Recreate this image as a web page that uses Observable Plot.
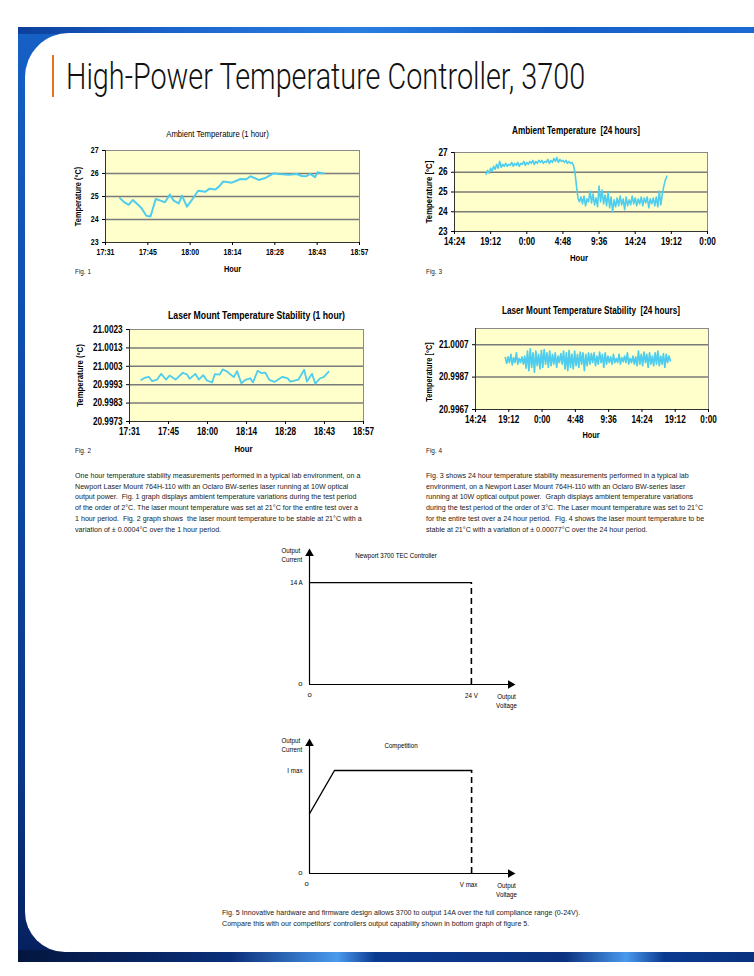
<!DOCTYPE html>
<html><head><meta charset="utf-8">
<script src="https://cdn.jsdelivr.net/npm/d3@7"></script>
<script src="https://cdn.jsdelivr.net/npm/@observablehq/plot@0.6"></script>
<style>
body{margin:0;background:#fff}
#page{position:relative;width:754px;height:976px;overflow:hidden;background:#fff;font-family:'Liberation Sans',Arial,sans-serif;color:#1a1a1a}
.abs{position:absolute}
#blue{left:18px;top:27px;width:760px;height:935px;background:linear-gradient(180deg,#1660c6 0%,#0e4aa8 40%,#0a3788 80%,#061f5c 100%)}
#topband{left:18px;top:27px;width:760px;height:7px;background:linear-gradient(90deg,#0c3f9c 0%,#1a64cc 20%,#2a7ee0 45%,#1560c8 70%,#1b6ad4 100%)}
#bottomband{left:18px;top:950px;width:760px;height:12px;background:linear-gradient(90deg,#04163f 0%,#0a2f7a 28%,#4a9aee 42%,#0a3a90 47%,#0b3280 72%,#4a9aee 80%,#0a3a90 85%,#08307a 100%)}
#white{left:25px;top:33px;width:760px;height:919px;background:#fff;border-radius:44px 0 0 40px}
#orange{left:52px;top:55px;width:1.5px;height:42px;background:#e8731f}
#title{left:66px;top:59px;font-family:Roboto,'Liberation Sans',sans-serif;font-weight:300;font-size:36px;line-height:36px;white-space:nowrap;color:#111;transform:scaleX(0.8);transform-origin:0 0}
.para{font-size:8px;line-height:10.7px;white-space:pre;color:#1a1a1a;transform:scaleX(0.89);transform-origin:0 0}
.fig{font-size:7.5px;white-space:pre;color:#1a1a1a;transform:scaleX(0.85);transform-origin:0 0}
svg{position:absolute}
</style></head>
<body>
<div id="page">
  <div id="blue" class="abs"></div>
  <div id="topband" class="abs"></div>
  <div id="bottomband" class="abs"></div>
  <div id="white" class="abs"></div>
  <div id="orange" class="abs"></div>
  <div id="title" class="abs">High-Power Temperature Controller, 3700</div>
  <div class="abs fig" style="left:75px;top:267px">Fig. 1</div>
  <div class="abs fig" style="left:75px;top:446px">Fig. 2</div>
  <div class="abs fig" style="left:426px;top:267px">Fig. 3</div>
  <div class="abs fig" style="left:426px;top:446px">Fig. 4</div>
  <div id="paraL" class="abs para" style="left:75px;top:471px"></div>
  <div id="paraR" class="abs para" style="left:426px;top:471px"></div>
  <div id="caption" class="abs para" style="left:222px;top:907px;line-height:11px"></div>
</div>
<script>
const FONT = "'Liberation Sans',Arial,sans-serif";
const CONDENSE = 0.82;
const PLOT_BG = "#ffffcc", LINE = "#4fcdee", GRID = "#7a7a7a";

// ---- Fig. 1: ambient temperature, 1 hour (time in minutes after midnight)
const fig1Time = [1056.1,1057.4,1059.1,1060.5,1062.0,1063.4,1065.1,1066.5,1068.3,1069.9,1071.4,1073.1,1074.4,1076.1,1077.2,1078.9,1080.6,1082.7,1085.2,1086.6,1088.6,1089.9,1091.2,1094.2,1097.1,1099.1,1100.5,1103.3,1105.3,1108.4,1110.1,1113.5,1116.3,1118.0,1119.5,1120.8,1122.5,1123.3,1125.4];
const fig1Temp = [24.93,24.77,24.64,24.85,24.67,24.50,24.16,24.13,24.89,24.82,24.75,25.08,24.82,24.70,25.04,24.56,24.85,25.25,25.21,25.34,25.30,25.44,25.65,25.60,25.76,25.75,25.88,25.72,25.79,26.01,25.98,25.95,25.98,25.89,25.88,25.98,25.84,26.05,26.00];
const hourTicks1 = [1051.2,1065.6,1080,1094.4,1108.8,1123.2,1137.6];
const hourLabels1 = ["17:31","17:45","18:00","18:14","18:28","18:43","18:57"];
const fig1YTicks = [23,24,25,26,27];

// ---- Fig. 2: laser mount temperature, 1 hour
const fig2Time = [1055.5,1056.7,1058.3,1059.6,1061.4,1062.9,1064.7,1066.0,1068.2,1070.9,1072.5,1073.4,1075.5,1076.8,1078.4,1079.8,1081.7,1082.7,1084.5,1085.6,1087.2,1089.7,1090.9,1092.5,1094.0,1095.8,1096.8,1098.5,1099.8,1101.3,1102.8,1104.7,1107.7,1109.6,1110.6,1113.6,1115.7,1116.7,1118.6,1119.8,1121.6,1122.9,1124.7];
const fig2Temp = [20.99956,20.99967,20.99973,20.99949,20.99958,20.99989,20.99958,20.9998,20.99958,20.99995,20.99985,20.99962,20.99989,20.99958,20.99982,20.99953,20.99942,20.99987,20.99985,21.00013,21.00002,20.99971,21.00004,20.99938,20.99956,20.99965,20.99942,21.00006,20.99993,20.99996,20.99956,20.99945,20.99973,20.99964,20.99947,20.99958,21.00011,20.99947,20.99989,20.99936,20.99965,20.99971,21.0];
const fig2YTicks = [20.9973,20.9983,20.9993,21.0003,21.0013,21.0023];

// ---- Fig. 3: ambient temperature, 24 hours (sampled every 0.2 h from 18.6 h)
const fig3StartHour = 18.6, fig3StepHours = 0.2;
const fig3Temp = [25.9,26.1,25.95,26.2,26.05,26.3,26.15,26.4,26.2,26.55,26.25,26.4,26.3,26.45,26.3,26.4,26.35,26.5,26.3,26.45,26.35,26.5,26.3,26.45,26.4,26.55,26.35,26.5,26.4,26.55,26.45,26.6,26.4,26.55,26.45,26.6,26.5,26.6,26.45,26.55,26.5,26.65,26.45,26.6,26.5,26.7,26.55,26.75,26.5,26.65,26.55,26.6,26.5,26.6,26.45,26.55,26.45,26.5,26.35,26.0,25.3,24.7,24.5,24.75,24.4,24.8,24.3,24.65,24.5,25.05,24.45,24.9,24.35,24.7,24.25,25.3,24.5,25.1,24.4,24.85,24.3,25.0,24.2,24.75,24.0,24.6,24.25,24.7,24.3,24.8,24.35,24.65,24.1,24.75,24.3,24.6,24.35,24.8,24.4,24.7,24.3,24.65,24.4,24.75,24.3,24.7,24.45,24.75,24.2,24.65,24.4,24.7,24.3,24.75,24.25,25.05,24.35,24.9,25.3,25.6,25.8];
const hourTicks24 = [14.4,19.2,24,28.8,33.6,38.4,43.2,48];
const hourLabels24 = ["14:24","19:12","0:00","4:48","9:36","14:24","19:12","0:00"];
const fig3YTicks = [23,24,25,26,27];

// ---- Fig. 4: laser mount temperature, 24 hours (sampled every 0.2 h from 18.7 h)
const fig4StartHour = 18.7, fig4StepHours = 0.2;
const fig4Temp = [20.9999,20.99955,20.99995,20.9996,21.0001,20.99945,20.9999,20.9996,21.0002,20.9995,20.99985,20.9996,20.99995,20.9995,21.0000,20.99925,21.0003,20.9991,21.00045,20.9993,21.0002,20.9990,21.0003,20.9994,21.0001,20.9992,21.00035,20.9993,21.0004,20.9995,21.0002,20.9993,21.0003,20.9994,21.0001,20.9995,21.0002,20.9993,21.0000,20.9996,21.00015,20.9995,21.0003,20.9992,21.0002,20.9991,21.00035,20.9993,21.0001,20.9992,21.0003,20.9994,21.0001,20.9993,21.00025,20.9995,21.0002,20.9991,21.0001,20.9994,21.0002,20.9995,21.00015,20.9996,21.0002,20.9994,21.0000,20.9995,21.00025,20.9996,21.0001,20.9993,21.0002,20.9995,21.0000,20.9996,20.99995,20.9995,21.0001,20.9996,20.99985,20.9996,21.0001,20.9995,20.9999,20.99965,21.0000,20.9996,21.0002,20.9995,20.99985,20.9996,21.0000,20.9995,20.99995,20.9994,21.0003,20.9995,21.0001,20.9994,21.00025,20.9996,21.0001,20.9993,21.0002,20.9995,21.0000,20.9994,21.0002,20.9995,21.0003,20.9994,21.0000,20.9995,21.00015,20.9993,21.0001,20.9996,21.0000,20.9997];
const fig4YTicks = [20.9967,20.9987,21.0007];

// ---- Fig. 5 schematics
const fig5TopCurve = [{v:0,i:14},{v:24,i:14}];
const fig5TopVmax = 24, fig5TopImax = 14;
const fig5TopYLabels = [{v:14,label:"14 A"},{v:0,label:"0"}];
const fig5TopXLabels = [{v:0,label:"0"},{v:24,label:"24 V"}];
const fig5BotCurve = [{v:0,i:0.58},{v:0.154,i:1},{v:1,i:1}];
const fig5BotYLabels = [{v:1,label:"I max"},{v:0,label:"0"}];
const fig5BotXLabels = [{v:0,label:"0"},{v:1,label:"V max"}];

// ---- texts
const paraLeft = [
 "One hour temperature stability measurements performed in a typical lab environment, on a",
 "Newport Laser Mount 764H-110 with an Oclaro BW-series laser running at 10W optical",
 "output power.  Fig. 1 graph displays ambient temperature variations during the test period",
 "of the order of 2°C. The laser mount temperature was set at 21°C for the entire test over a",
 "1 hour period.  Fig. 2 graph shows  the laser mount temperature to be stable at 21°C with a",
 "variation of ± 0.0004°C over the 1 hour period."];
const paraRight = [
 "Fig. 3 shows 24 hour temperature stability measurements performed in a typical lab",
 "environment, on a Newport Laser Mount 764H-110 with an Oclaro BW-series laser",
 "running at 10W optical output power.  Graph displays ambient temperature variations",
 "during the test period of the order of 3°C. The Laser mount temperature was set to 21°C",
 "for the entire test over a 24 hour period.  Fig. 4 shows the laser mount temperature to be",
 "stable at 21°C with a variation of ± 0.00077°C over the 24 hour period."];
const captionLines = [
 "Fig. 5 Innovative hardware and firmware design allows 3700 to output 14A over the full compliance range (0-24V).",
 "Compare this with our competitors' controllers output capability shown in bottom graph of figure 5."];

document.getElementById("paraL").textContent = paraLeft.join("\n");
document.getElementById("paraR").textContent = paraRight.join("\n");
document.getElementById("caption").textContent = captionLines.join("\n");

const page = document.getElementById("page");
const SVGNS = "http://www.w3.org/2000/svg";
// narrow each SVG label around its own anchor point (after layout), without touching Plot's attributes
function condense(svg, k){
  [...svg.querySelectorAll("text")].forEach(t=>{
    const parent = t.parentNode;
    const ctm = parent.getScreenCTM();
    if (!ctm) return;
    const inv = ctm.inverse();
    const r = t.getBoundingClientRect();
    if (!r.width) return;
    const p1 = new DOMPoint(r.left, r.top).matrixTransform(inv);
    const p2 = new DOMPoint(r.right, r.bottom).matrixTransform(inv);
    const x0 = Math.min(p1.x,p2.x), x1 = Math.max(p1.x,p2.x), y0 = Math.min(p1.y,p2.y), y1 = Math.max(p1.y,p2.y);
    const anchor = getComputedStyle(t).textAnchor || "start";
    const vertical = (y1-y0) > 2*(x1-x0);
    const g = document.createElementNS(SVGNS, "g");
    if (!vertical){
      const ax = anchor === "middle" ? (x0+x1)/2 : anchor === "end" ? x1 : x0;
      g.setAttribute("transform", `translate(${ax},0) scale(${k},1) translate(${-ax},0)`);
    } else {
      const ay = (y0+y1)/2;
      g.setAttribute("transform", `translate(0,${ay}) scale(1,${k}) translate(0,${-ay})`);
    }
    parent.insertBefore(g, t);
    g.appendChild(t);
  });
}
function place(svg, left, top){
  svg.style.left = left+"px"; svg.style.top = top+"px";
  page.appendChild(svg);
  condense(svg, CONDENSE);
}

function lineChart(o){
  const xl = new Map(o.xTicks.map((t,i)=>[t,o.xLabels[i]]));
  return Plot.plot({
    width:o.w, height:o.h,
    marginLeft:o.ml, marginRight:o.mr, marginTop:o.mt, marginBottom:o.mb,
    x:{domain:o.xDomain}, y:{domain:o.yDomain},
    style:{fontFamily:FONT, fontSize:o.fs+"px", background:"transparent", overflow:"visible", color:"#000"},
    marks:[
      Plot.frame({fill:PLOT_BG, stroke:"#8a8a8a", strokeWidth:1}),
      Plot.ruleY(o.grid, {stroke:GRID, strokeWidth:1.5}),
      Plot.line(o.data, {x:"t", y:"v", stroke:LINE, strokeWidth:o.lw, strokeLinejoin:"round"}),
      Plot.ruleX([o.xDomain[0]], {stroke:"#333", strokeWidth:1}),
      Plot.ruleY([o.yDomain[0]], {stroke:"#333", strokeWidth:1}),
      Plot.axisY({ticks:o.yTicks, tickFormat:o.yFmt, tickSize:3, tickPadding:4, fontWeight:"bold", fontSize:o.fs, label:null}),
      Plot.axisX({ticks:o.xTicks, tickFormat:d=>xl.get(d), tickSize:3, tickPadding:3, fontWeight:"bold", fontSize:o.fs, label:null}),
      Plot.text([o.title], {frameAnchor:"top", textAnchor:"middle", lineAnchor:"middle", dx:o.tdx, dy:o.tdy, fontSize:o.tfs, fontWeight:o.tfw||"normal"}),
      Plot.text([o.yLabel], {frameAnchor:"left", textAnchor:"middle", lineAnchor:"middle", rotate:-90, dx:o.ydx, dy:o.ydy||0, fontWeight:"bold", fontSize:o.lfs}),
      Plot.text(["Hour"], {frameAnchor:"bottom", textAnchor:"middle", lineAnchor:"middle", dx:o.hdx, dy:o.hdy, fontWeight:"bold", fontSize:o.lfs})
    ]
  });
}

const fmt4 = d3.format(".4f");

place(lineChart({w:310,h:160,ml:35,mr:21,mt:30,mb:38,
  xDomain:[1051.2,1137.6], yDomain:[23,27], xTicks:hourTicks1, xLabels:hourLabels1,
  yTicks:fig1YTicks, yFmt:d=>String(d), grid:[24,25,26],
  data:fig1Time.map((t,i)=>({t, v:fig1Temp[i]})), lw:2,
  fs:8.5, title:"Ambient Temperature (1 hour)", tfs:9.4, tdx:-15, tdy:-17,
  yLabel:"Temperature (°C)", ydx:-27, lfs:9, hdx:0, hdy:27}), 70, 120);

place(lineChart({w:310,h:160,ml:59,mr:17,mt:29,mb:39,
  xDomain:[1051.2,1137.6], yDomain:[20.9973,21.0023], xTicks:hourTicks1, xLabels:hourLabels1,
  yTicks:fig2YTicks, yFmt:fmt4, grid:[20.9983,20.9993,21.0003,21.0013],
  data:fig2Time.map((t,i)=>({t, v:fig2Temp[i]})), lw:1.8,
  fs:10, title:"Laser Mount Temperature Stability (1 hour)", tfs:10.6, tfw:"bold", tdx:10, tdy:-14,
  yLabel:"Temperature (°C)", ydx:-50, lfs:9.5, hdx:-3, hdy:27}), 70, 300);

place(lineChart({w:330,h:160,ml:39,mr:38,mt:32,mb:49,
  xDomain:[14.4,48], yDomain:[23,27], xTicks:hourTicks24, xLabels:hourLabels24,
  yTicks:fig3YTicks, yFmt:d=>String(d), grid:[24,25,26],
  data:fig3Temp.map((v,i)=>({t:fig3StartHour + i*fig3StepHours, v})), lw:1.6,
  fs:10, title:"Ambient Temperature  [24 hours]", tfs:10, tfw:"bold", tdx:-5, tdy:-22,
  yLabel:"Temperature [°C]", ydx:-26, lfs:9.5, hdx:-2, hdy:26}), 415, 120);

place(lineChart({w:330,h:160,ml:60,mr:37,mt:28,mb:51,
  xDomain:[14.4,48], yDomain:[20.9967,21.0017], xTicks:hourTicks24, xLabels:hourLabels24,
  yTicks:fig4YTicks, yFmt:fmt4, grid:[20.9987,21.0007],
  data:fig4Temp.map((v,i)=>({t:fig4StartHour + i*fig4StepHours, v})), lw:1.7,
  fs:10, title:"Laser Mount Temperature Stability  [24 hours]", tfs:10, tfw:"bold", tdx:-1, tdy:-18,
  yLabel:"Temperature [°C]", ydx:-46, ydy:3, lfs:9, hdx:-1, hdy:26}), 415, 300);

function schematic(o){
  return Plot.plot({
    width:260, height:o.h, marginLeft:39, marginRight:20, marginTop:13, marginBottom:o.mb,
    x:{domain:o.xDomain, axis:null}, y:{domain:o.yDomain, axis:null},
    style:{fontFamily:FONT, fontSize:"7.6px", background:"transparent", overflow:"visible", color:"#000"},
    marks:[
      Plot.ruleX([0], {stroke:"#000", strokeWidth:1.2}),
      Plot.ruleY([0], {stroke:"#000", strokeWidth:1.2}),
      Plot.dot([{v:0, i:o.yDomain[1]}], {x:"v", y:"i", symbol:"triangle", r:3.2, fill:"#000", stroke:"none"}),
      Plot.dot([{v:o.xDomain[1], i:0}], {x:"v", y:"i", symbol:"triangle", r:3.2, rotate:90, fill:"#000", stroke:"none"}),
      Plot.line(o.curve, {x:"v", y:"i", stroke:"#000", strokeWidth:1.4}),
      Plot.ruleX([o.vEnd], {y1:0, y2:o.iTop, stroke:"#000", strokeWidth:1.6, strokeDasharray:"6,4"}),
      Plot.text(o.yLabels, {x:0, y:"v", text:"label", textAnchor:"end", dx:-7}),
      Plot.text(o.xLabels, {x:"v", y:0, text:"label", dy:11, dx:o.xldx||0}),
      Plot.text(["Output\nCurrent"], {frameAnchor:"top-left", textAnchor:"start", lineAnchor:"top", dx:-28, dy:-8, lineHeight:1.3}),
      Plot.text(["Output\nVoltage"], {frameAnchor:"bottom-right", textAnchor:"middle", lineAnchor:"top", dx:-4, dy:7, lineHeight:1.3}),
      Plot.text([o.title], {frameAnchor:"top", textAnchor:"middle", lineAnchor:"middle", dx:o.tdx, dy:2})
    ]
  });
}

place(schematic({h:175, mb:31, xDomain:[0,29.8], yDomain:[0,18], curve:fig5TopCurve,
  vEnd:fig5TopVmax, iTop:fig5TopImax, yLabels:fig5TopYLabels, xLabels:fig5TopXLabels,
  title:"Newport 3700 TEC Controller", tdx:-14}), 270, 540);

place(schematic({h:180, mb:37, xDomain:[0,1.24], yDomain:[0,1.262], curve:fig5BotCurve,
  vEnd:1, iTop:1, yLabels:fig5BotYLabels, xLabels:fig5BotXLabels,
  title:"Competition", tdx:-9, xldx:-3}), 270, 730);
</script>
</body></html>
